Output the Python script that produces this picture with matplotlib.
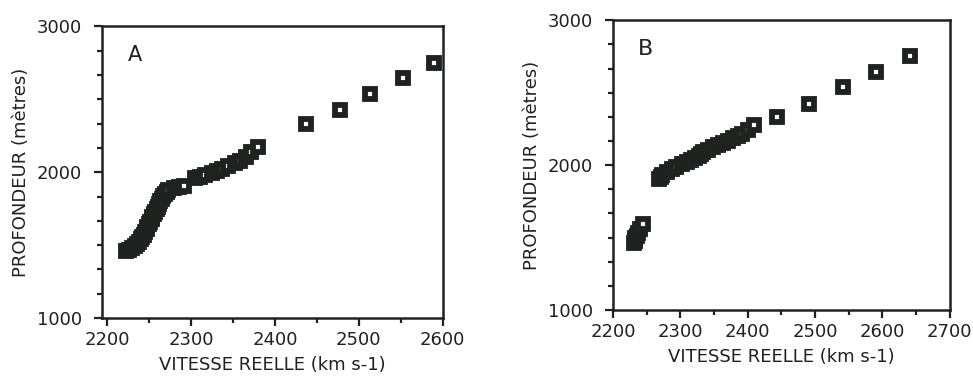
import matplotlib
matplotlib.use("Agg")
import matplotlib.pyplot as plt
from matplotlib.ticker import MultipleLocator

# panel A : vitesse (km s-1) / profondeur (m)
vit_a = [2222, 2226, 2230, 2233, 2236, 2238, 2240, 2242, 2244, 2245,
         2247, 2248, 2250, 2251, 2253, 2254, 2256, 2257, 2259, 2260,
         2262, 2263, 2265, 2267, 2269, 2271,
         2273, 2280, 2286, 2291, 2305, 2311, 2317, 2325, 2331, 2337,
         2344, 2352, 2358, 2365, 2372, 2380,
         2437, 2477, 2513, 2553, 2590]
prof_a = [1462, 1470, 1482, 1495, 1508, 1525, 1540, 1556, 1572, 1590,
          1608, 1625, 1643, 1660, 1678, 1695, 1713, 1730, 1748, 1765,
          1783, 1800, 1818, 1835, 1852, 1866,
          1876, 1894, 1899, 1906, 1959, 1968, 1982, 1995, 2009, 2025,
          2043, 2060, 2078, 2106, 2136, 2170,
          2333, 2425, 2536, 2644, 2747]

# panel B
vit_b = [2231, 2232, 2233, 2235, 2237, 2240, 2244,
         2268, 2271, 2273, 2280, 2287, 2293, 2302, 2310, 2316, 2322,
         2327, 2331, 2334, 2341, 2349, 2356, 2363, 2371, 2378, 2385,
         2392, 2400, 2410,
         2443, 2491, 2542, 2590, 2641]
prof_b = [1465, 1480, 1495, 1512, 1530, 1560, 1595,
          1905, 1920, 1935, 1955, 1975, 1985, 2005, 2020, 2034, 2050,
          2065, 2080, 2092, 2108, 2122, 2136, 2150, 2166, 2184, 2200,
          2218, 2241, 2276,
          2333, 2425, 2536, 2644, 2752]

ink = "#1e231f"
plt.rcParams["font.family"] = ["DejaVu Sans"]

fig = plt.figure(figsize=(9.73, 3.81), dpi=100)
ax_a = fig.add_axes([0.105, 0.165, 0.350, 0.766])
ax_b = fig.add_axes([0.630, 0.186, 0.346, 0.761])

panels = [
    (ax_a, vit_a, prof_a, (2194, 2600), [2200, 2300, 2400, 2500, 2600], "A", 15),
    (ax_b, vit_b, prof_b, (2200, 2700), [2200, 2300, 2400, 2500, 2600, 2700], "B", 16),
]

for ax, x, y, xlim, xt, letter, lsize in panels:
    ax.plot(x, y, linestyle="none", marker="s", markersize=6.5,
            markerfacecolor="white", markeredgecolor=ink,
            markeredgewidth=4.2, clip_on=True)
    ax.set_xlim(*xlim)
    ax.set_ylim(1000, 3000)
    ax.set_xticks(xt)
    ax.xaxis.set_minor_locator(MultipleLocator(50))
    ax.set_yticks([1000, 2000, 3000])
    ax.yaxis.set_minor_locator(MultipleLocator(1000 / 6))
    ax.tick_params(which="major", direction="out", length=5.5, width=1.6,
                   colors=ink, labelsize=13)
    ax.tick_params(which="minor", direction="out", length=3.5, width=1.6,
                   colors=ink)
    ax.tick_params(axis="x", which="major", pad=4)
    ax.tick_params(axis="y", which="major", pad=9)
    for s in ax.spines.values():
        s.set_linewidth(1.8)
        s.set_color(ink)
    ax.set_xlabel("VITESSE REELLE (km s-1)", fontsize=13, color=ink,
                  labelpad=5)
    ax.set_ylabel("PROFONDEUR (mètres)", fontsize=13, color=ink,
                  labelpad=5)
    ax.text(0.075, 0.9, letter, transform=ax.transAxes, fontsize=lsize,
            color=ink, ha="left", va="center")

fig.savefig("out.png", dpi=100, facecolor="white")
